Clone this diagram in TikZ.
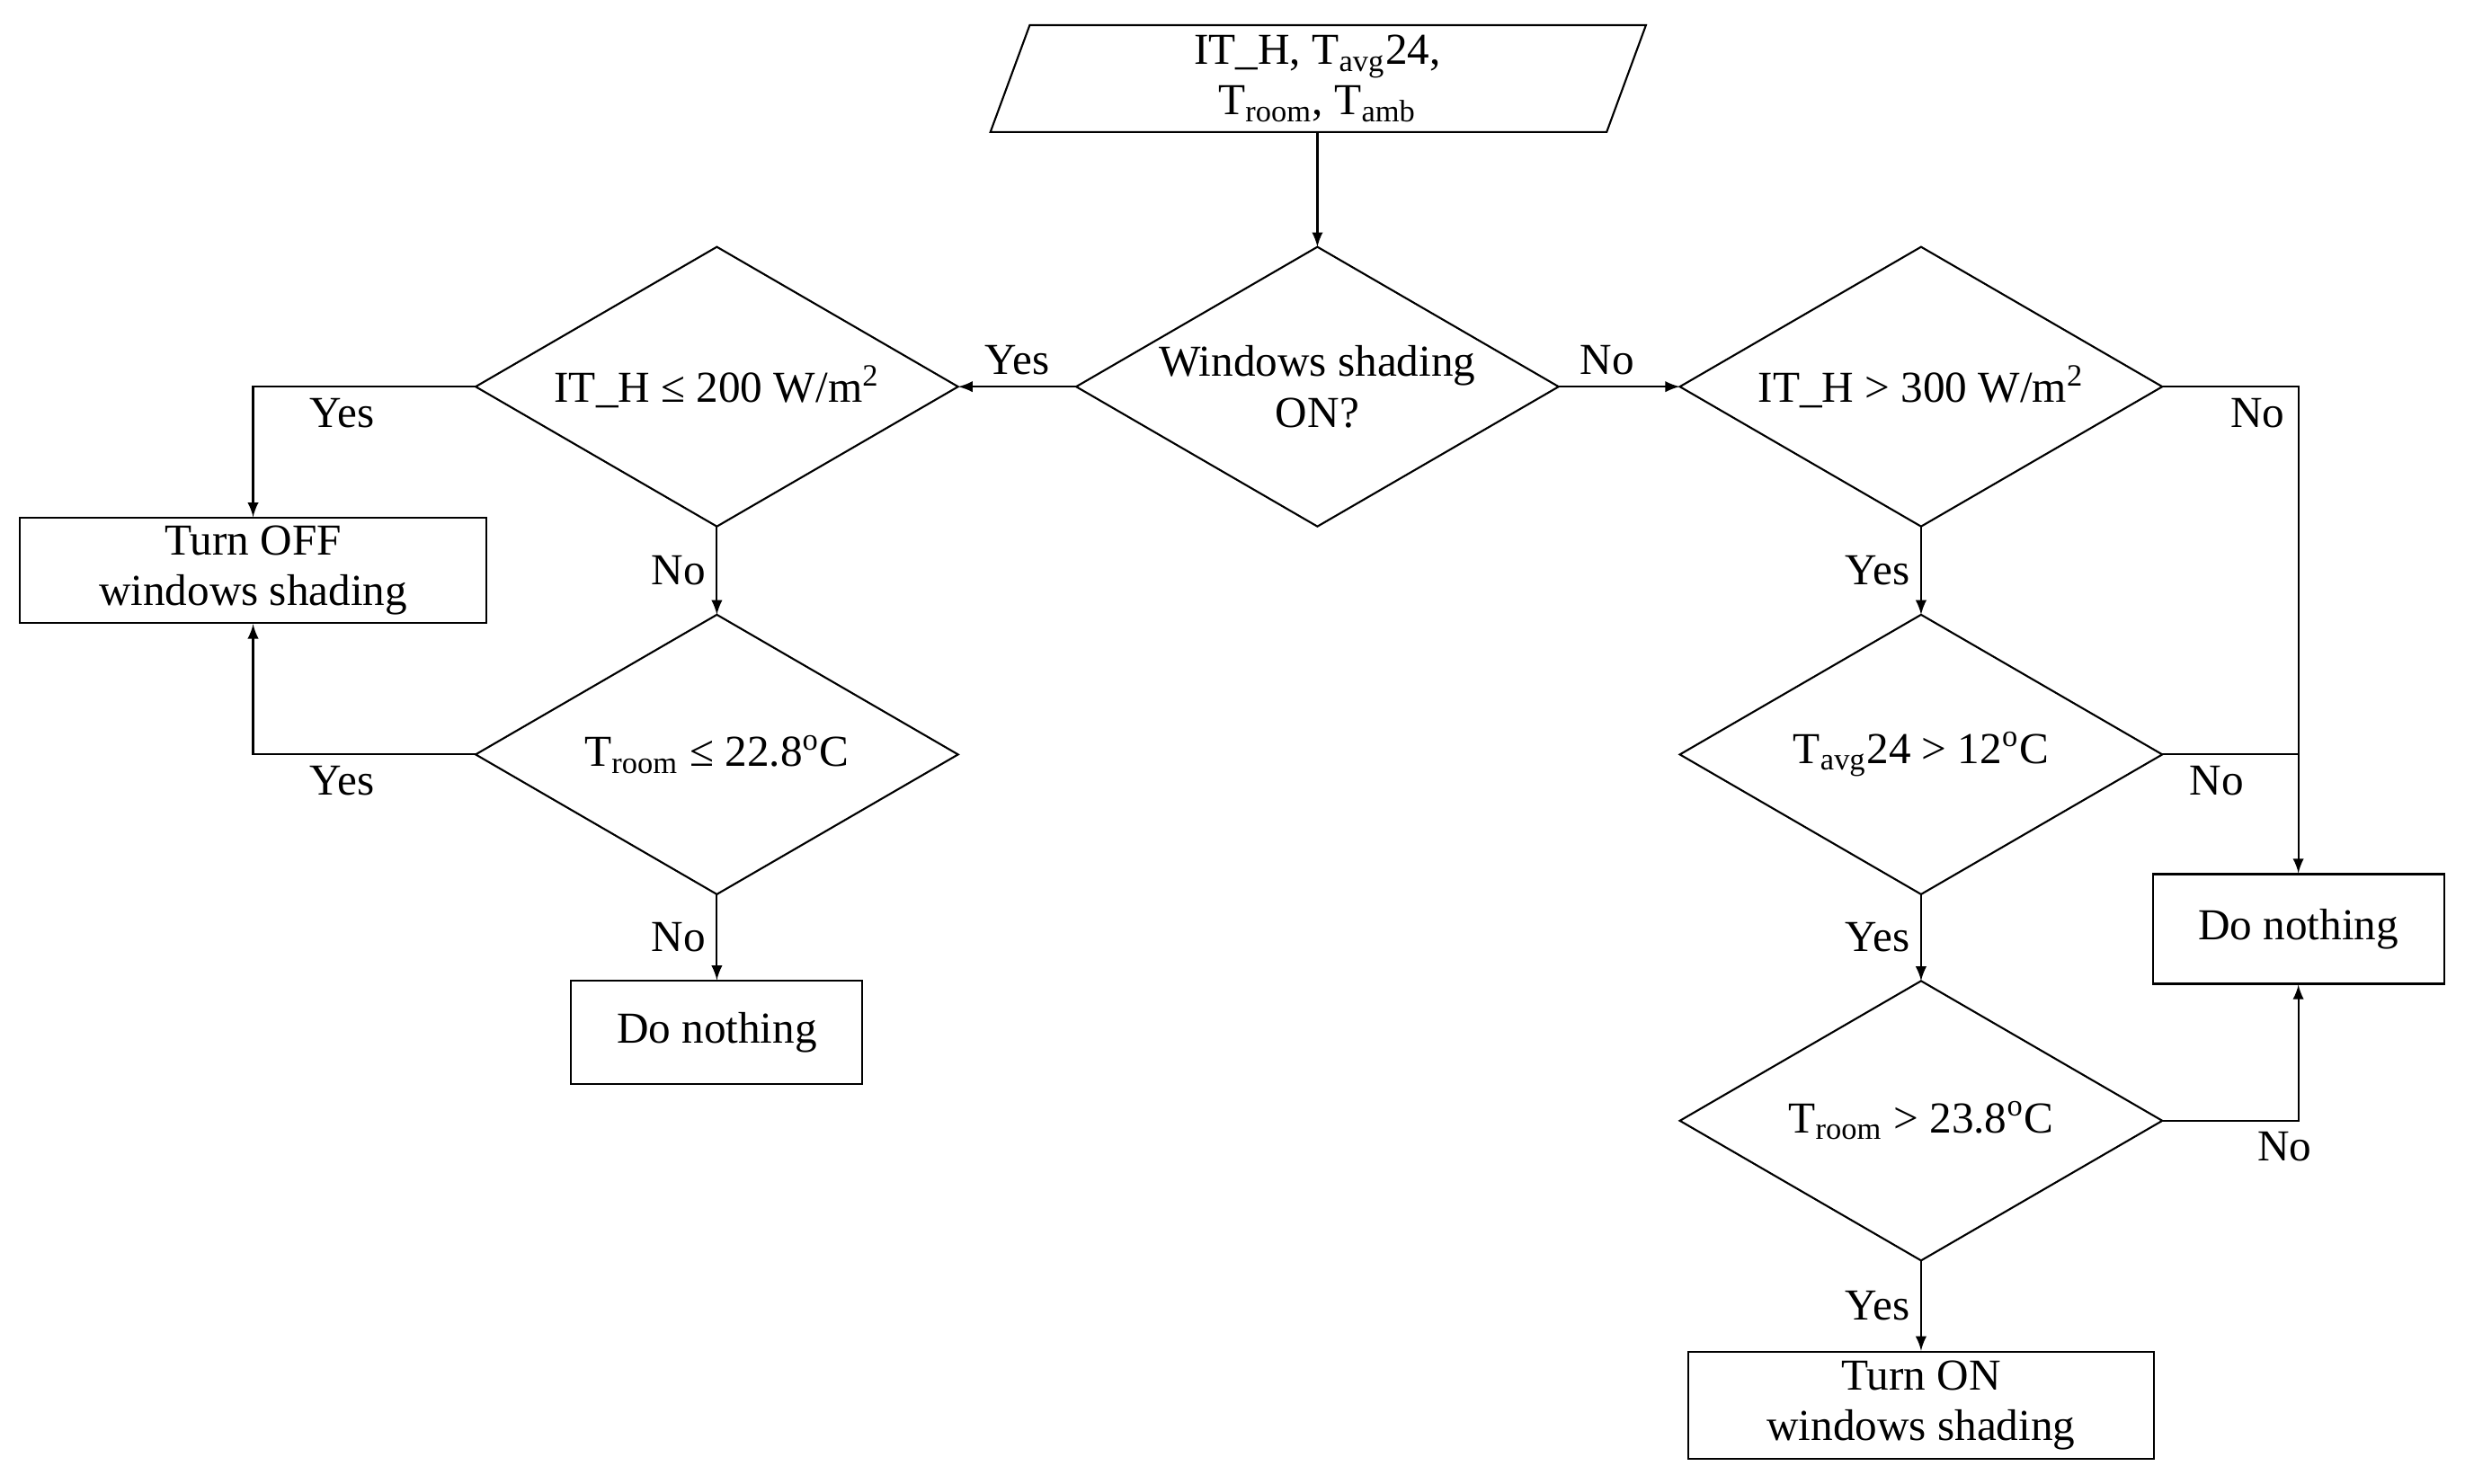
\documentclass[tikz,border=0pt]{standalone}
\usepackage{fontspec}
\setmainfont{Liberation Serif}
\begin{document}
\begin{tikzpicture}[x=0.01749cm,y=-0.01749cm,
  every node/.style={font=\fontsize{14}{16}\selectfont},
  dia/.style={minimum width=306\pgfkeysvalueof{/pgf/x}, inner sep=0pt},
  box/.style={draw, line width=0.6pt, align=center, inner sep=0pt},
  lbl/.style={font=\fontsize{14}{16}\selectfont},
  line/.style={line width=0.6pt},
  arr/.style={line width=0.6pt,-latex}]
\useasboundingbox (0,0) rectangle (1568,944);
% diamonds as invisible rectangles
\tikzset{dnode/.style={inner sep=0pt, minimum width=5.352cm, minimum height=3.096cm, align=center}}
\node[dnode] (m) at (838,246) {Windows shading\\ON?};
\node[dnode] (l1) at (456,246) {IT\_H ≤ 200 W/m\textsuperscript{2}};
\node[dnode] (l2) at (456,480) {T\textsubscript{room} ≤ 22.8\textsuperscript{o}C};
\node[dnode] (r1) at (1222,246) {IT\_H > 300 W/m\textsuperscript{2}};
\node[dnode] (r2) at (1222,480) {T\textsubscript{avg}24 > 12\textsuperscript{o}C};
\node[dnode] (r3) at (1222,713) {T\textsubscript{room} > 23.8\textsuperscript{o}C};
\foreach \d in {m,l1,l2,r1,r2,r3}
  \draw[line] (\d.north)--(\d.east)--(\d.south)--(\d.west)--cycle;
% input
\node[inner sep=0pt, minimum width=7.29cm, minimum height=1.19cm, align=center] (in) at (838,50) {IT\_H, T\textsubscript{avg}24,\\T\textsubscript{room}, T\textsubscript{amb}};
\draw[line] (655,16)--(1047,16)--(1022,84)--(630,84)--cycle;
% boxes
\node[box, minimum width=5.19cm, minimum height=1.17cm] (off) at (161,363) {Turn OFF\\windows shading};
\node[box, minimum width=3.24cm, minimum height=1.15cm] (dnl) at (456,657) {Do nothing};
\node[box, minimum width=3.24cm, minimum height=1.22cm] (dnr) at (1462,591) {Do nothing};
\node[box, minimum width=5.18cm, minimum height=1.19cm] (on) at (1222,894) {Turn ON\\windows shading};
\coordinate (j) at (1462,480);
% connectors
\draw[arr] (in.south) -- (m.north);
\draw[arr] (m.west) -- (l1.east) node[lbl, pos=0.5, above] {Yes};
\draw[arr] (m.east) -- (r1.west) node[lbl, pos=0.4, above] {No};
\draw[arr] (l1.west) -| (off.north) node[lbl, pos=0.3, below] {Yes};
\draw[arr] (l1.south) -- (l2.north) node[lbl, midway, left] {No};
\draw[arr] (l2.west) -| (off.south) node[lbl, pos=0.3, below] {Yes};
\draw[arr] (l2.south) -- (dnl.north) node[lbl, midway, left] {No};
\draw[arr] (r1.east) -| (dnr.north) node[lbl, pos=0.35, below] {No};
\draw[arr] (r1.south) -- (r2.north) node[lbl, midway, left] {Yes};
\draw[line] (r2.east) -- (j) node[lbl, pos=0.4, below] {No};
\draw[arr] (r2.south) -- (r3.north) node[lbl, midway, left] {Yes};
\draw[arr] (r3.east) -| (dnr.south) node[lbl, pos=0.45, below] {No};
\draw[arr] (r3.south) -- (on.north) node[lbl, midway, left] {Yes};
\end{tikzpicture}
\end{document}
